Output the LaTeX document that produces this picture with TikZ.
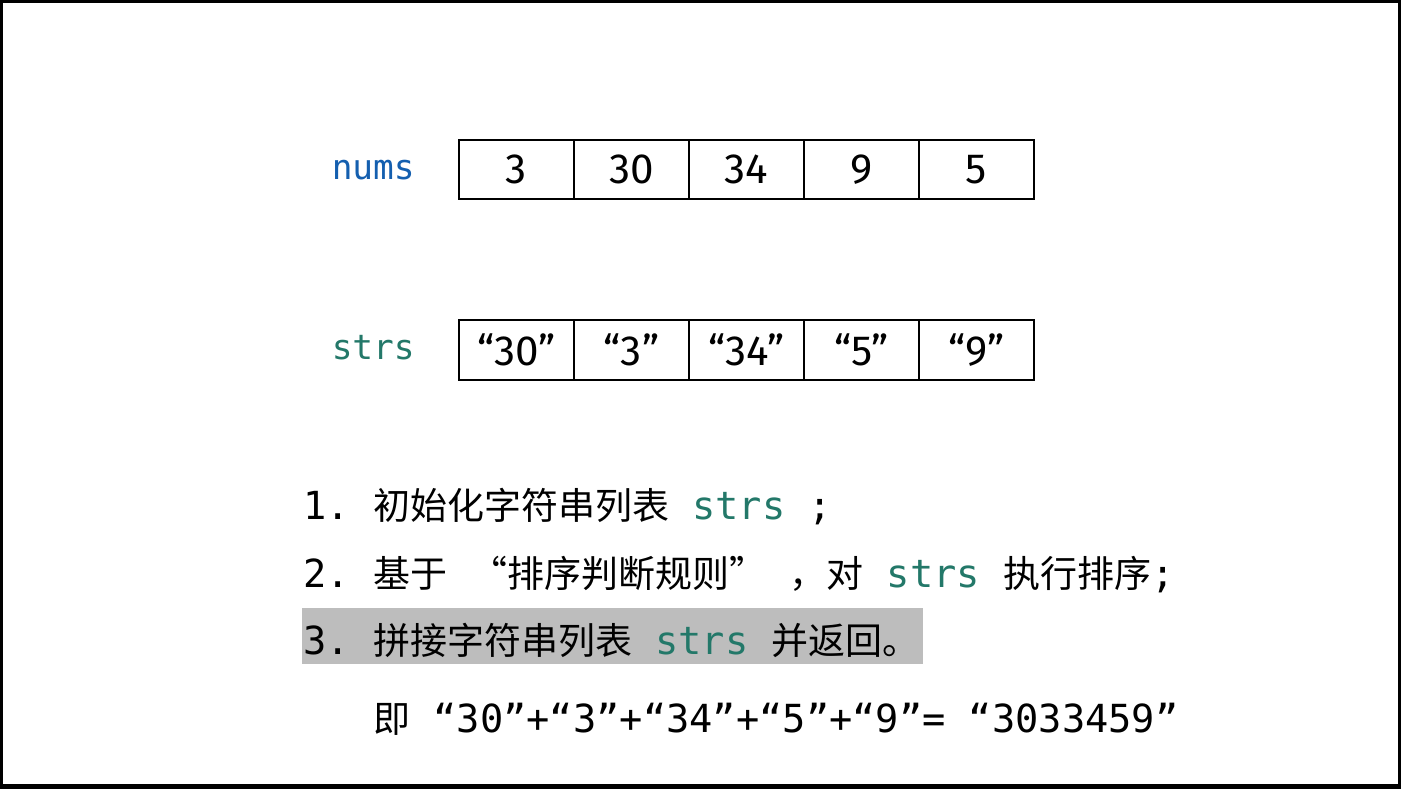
\documentclass[tikz,border=0pt]{standalone}
\usepackage{fontspec}
\setmainfont{Fira Sans}
\setmonofont{DejaVu Sans Mono}
\newfontfamily\cjk{Noto Sans CJK SC}
\definecolor{numsblue}{RGB}{20,95,175}
\definecolor{strsteal}{RGB}{35,120,105}
\definecolor{hlgray}{RGB}{189,189,189}
\newcommand{\cn}[1]{{\cjk\fontsize{26.3}{30}\selectfont #1}}
\newcommand{\code}[1]{\textcolor{strsteal}{#1}}
\tikzset{
  cell/.style={draw, line width=1.4pt, inner sep=0pt, outer sep=0pt,
    minimum width=2.875cm, minimum height=1.49cm,
    font=\fontsize{30}{34}\selectfont},
  arrname/.style={anchor=base east, inner sep=0pt,
    font=\ttfamily\fontsize{24.5}{28}\selectfont},
  listline/.style={anchor=base west, inner sep=0pt,
    font=\ttfamily\fontsize{27.5}{30}\selectfont},
}
\begin{document}
\begin{tikzpicture}[x=0.025cm,y=-0.025cm]
\fill[black] (0,0) rectangle (1401,789);
\fill[white] (3,3) rectangle (1398,784);
\useasboundingbox (0,0) rectangle (1401,789);
% the two arrays
\foreach \j/\lbl/\col/\b in {169.5/nums/numsblue/{0/3,1/30,2/34,3/9,4/5},350/strs/strsteal/{0/“30”,1/“3”,2/“34”,3/“5”,4/“9”}} {
  \node[arrname, text=\col] (\lbl) at (415,\j+9.5) {\lbl};
  \foreach \i/\t in \b {
    \node[cell] (\lbl-\i) at (516.5+115*\i,\j) {\t};
  }
}
% steps
\fill[hlgray] (302,608) rectangle (923,664);
\node[listline] (line1) at (303,519) {1. \cn{初始化字符串列表} \code{strs} ;};
\node[listline] (line2) at (303,587) {2. \cn{基于} \cn{“排序判断规则”} \cn{，对} \code{strs} \cn{执行排序};};
\node[listline] (line3) at (303,654) {3. \cn{拼接字符串列表} \code{strs} \cn{并返回。}};
\node[listline] (line4) at (373,732) {\cn{即} “30”+“3”+“34”+“5”+“9”= “3033459”};
\end{tikzpicture}
\end{document}
